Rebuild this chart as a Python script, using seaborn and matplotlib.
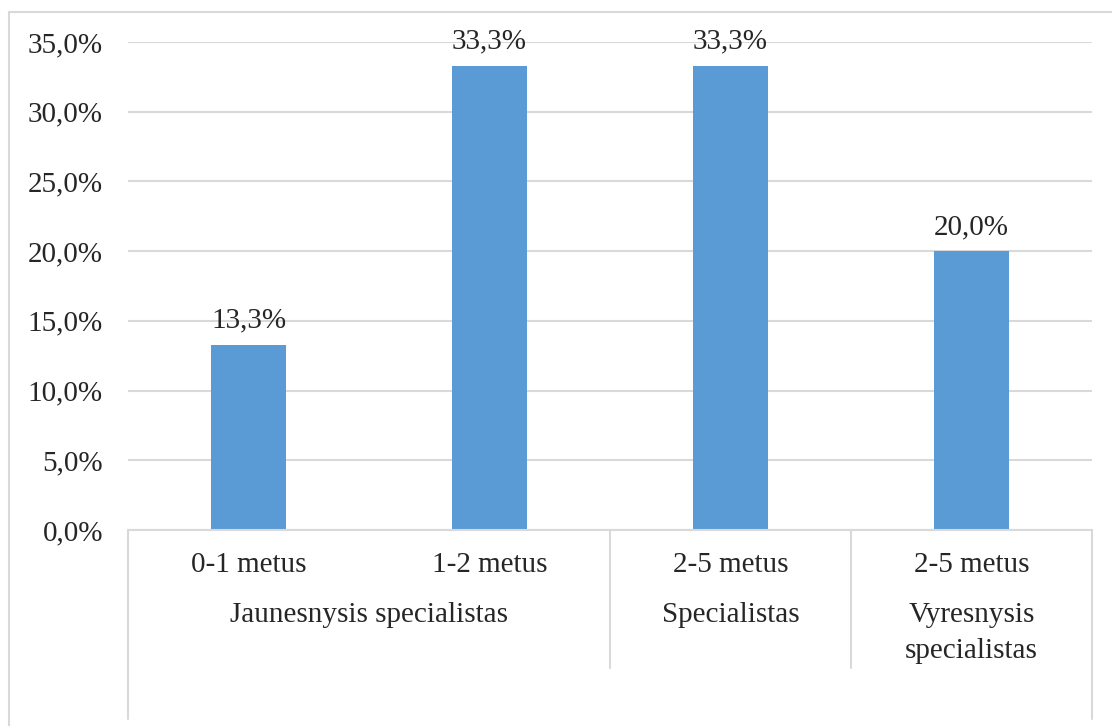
import pandas as pd
import seaborn as sns
import matplotlib.pyplot as plt
from matplotlib.lines import Line2D
from matplotlib.patches import Rectangle
from matplotlib.ticker import FuncFormatter

# data
periods = ["0-1 metus", "1-2 metus", "2-5 metus", "2-5 metus"]
groups = ["Jaunesnysis specialistas", "Specialistas", "Vyresnysis\nspecialistas"]
group_sizes = [2, 1, 1]
shares = [13.3, 33.3, 33.3, 20.0]

keys = [f"{i}_{p}" for i, p in enumerate(periods)]
df = pd.DataFrame({"key": keys, "share": [s / 100 for s in shares]})

sns.set_style("white")
plt.rcParams["font.family"] = ["Liberation Serif", "DejaVu Serif"]

fig = plt.figure(figsize=(11.12, 7.26), dpi=100)
ax = fig.add_axes([128 / 1112, 1 - 530 / 726, (1092 - 128) / 1112, (530 - 42) / 726])

sns.barplot(data=df, x="key", y="share", order=keys, color="#5B9BD5",
            saturation=1, width=0.315, linewidth=0, ax=ax)

ax.set_ylim(0, 0.35)
ax.set_yticks([i * 0.05 for i in range(8)])
ax.yaxis.set_major_formatter(FuncFormatter(lambda v, _: f"{v * 100:.1f}%".replace(".", ",")))
ax.tick_params(axis="y", length=0, pad=18, labelsize=21)
ax.tick_params(axis="x", length=0, labelbottom=False)
ax.grid(axis="y", color="#D9D9D9", linewidth=1.5)
ax.set_axisbelow(True)
for s in ["left", "right", "top"]:
    ax.spines[s].set_visible(False)
ax.spines["bottom"].set_color("#D9D9D9")
ax.spines["bottom"].set_linewidth(1.5)
ax.set_xlabel("")
ax.set_ylabel("")

# value labels
for bar, v in zip(ax.patches, shares):
    ax.annotate(f"{v:.1f}%".replace(".", ","),
                (bar.get_x() + bar.get_width() / 2, bar.get_height()),
                xytext=(0, 8), textcoords="offset points",
                ha="center", va="bottom", fontsize=21)

# multi-level category axis
trans = ax.get_xaxis_transform()
ax_h_px = 530 - 42
def ay(px):
    return -(px - 530) / ax_h_px

for i, p in enumerate(periods):
    ax.text(i, ay(565), p, transform=trans, ha="center", va="center", fontsize=21)

start = 0
bounds = [-0.5]
for g, n in zip(groups, group_sizes):
    center = start + (n - 1) / 2
    ax.text(center, ay(602), g, transform=trans, ha="center", va="top",
            fontsize=21, linespacing=1.5)
    start += n
    bounds.append(start - 0.5)

for j, b in enumerate(bounds):
    outer = j == 0 or j == len(bounds) - 1
    y_end = ay(719) if outer else ay(668)
    ax.add_line(Line2D([b, b], [0, y_end], transform=trans, color="#D9D9D9",
                       linewidth=1.5, clip_on=False))

# chart frame
fig.patches.append(Rectangle((9 / 1112, -0.1), 1.2, 1 - 12 / 726 + 0.1,
                             transform=fig.transFigure, fill=False,
                             edgecolor="#D9D9D9", linewidth=1.5))

plt.savefig("out.png", dpi=100)
plt.close()
